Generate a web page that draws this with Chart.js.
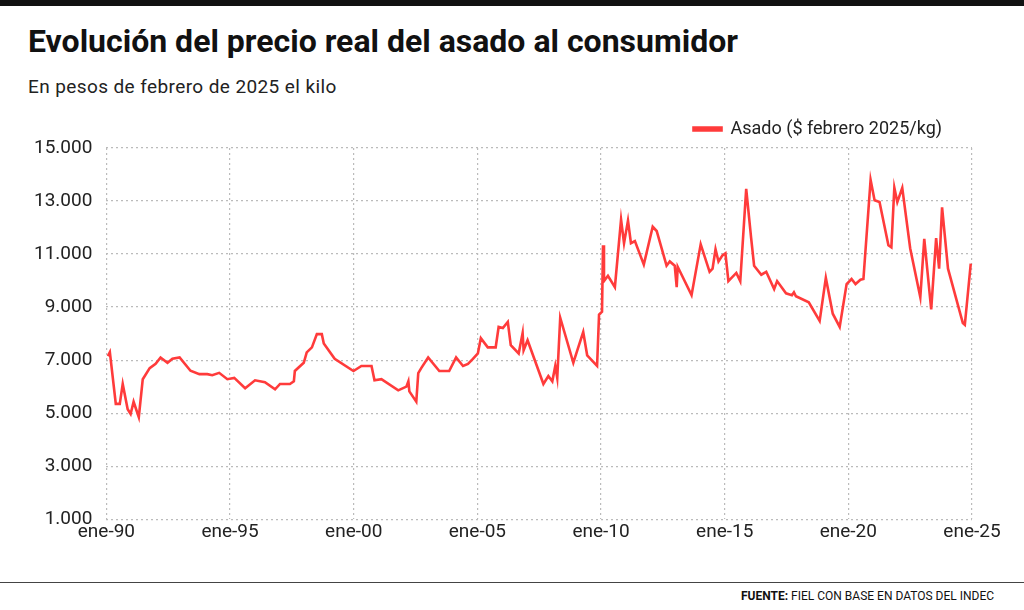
<!DOCTYPE html>
<html><head><meta charset="utf-8">
<script src="https://cdn.jsdelivr.net/npm/chart.js@4.4.1/dist/chart.umd.min.js"></script>
<style>
body{margin:0;width:1024px;height:610px;background:#fff;position:relative;overflow:hidden;font-family:'Roboto','Liberation Sans',sans-serif;}
#topbar{position:absolute;left:0;top:0;width:1024px;height:6px;background:#111;}
#title{position:absolute;left:28px;top:22px;font-size:32px;font-weight:bold;color:#111;letter-spacing:0px;}
#sub{position:absolute;left:28px;top:75px;font-size:19px;color:#222;letter-spacing:0.4px;}
#wrap{position:absolute;left:0;top:90px;width:1024px;height:456px;}
#line{position:absolute;left:0;top:582px;width:1024px;height:1px;background:#444;}
#foot{position:absolute;left:741px;top:589px;font-size:12px;color:#111;white-space:nowrap;}
</style></head><body>
<div id="topbar"></div>
<div id="title">Evolución del precio real del asado al consumidor</div>
<div id="sub">En pesos de febrero de 2025 el kilo</div>
<div id="wrap"><canvas id="c" width="1024" height="456"></canvas></div>
<div id="line"></div>
<div id="foot"><b>FUENTE:</b> FIEL CON BASE EN DATOS DEL INDEC</div>
<script>
const seriesName = 'Asado ($ febrero 2025/kg)';
const dates = [1990.06,1990.14,1990.38,1990.54,1990.66,1990.86,1990.98,1991.10,1991.31,1991.47,1991.75,1991.99,1992.19,1992.47,1992.67,1992.96,1993.40,1993.76,1994.08,1994.28,1994.56,1994.89,1995.17,1995.61,1996.01,1996.41,1996.82,1997.02,1997.42,1997.58,1997.62,1997.98,1998.10,1998.31,1998.51,1998.71,1998.79,1999.23,1999.99,2000.31,2000.72,2000.84,2001.12,2001.80,2002.13,2002.21,2002.25,2002.53,2002.61,2002.73,2003.01,2003.46,2003.86,2004.14,2004.42,2004.62,2004.82,2005.02,2005.14,2005.42,2005.74,2005.86,2006.03,2006.23,2006.35,2006.67,2006.83,2006.87,2007.03,2007.67,2007.87,2008.03,2008.15,2008.23,2008.35,2008.88,2009.04,2009.28,2009.44,2009.84,2009.92,2010.04,2010.08,2010.12,2010.28,2010.56,2010.81,2010.93,2011.09,2011.21,2011.37,2011.73,2012.09,2012.25,2012.65,2012.78,2012.98,2013.06,2013.10,2013.66,2014.03,2014.39,2014.51,2014.63,2014.75,2014.91,2015.03,2015.15,2015.47,2015.63,2015.87,2016.07,2016.19,2016.48,2016.68,2017.00,2017.12,2017.48,2017.72,2017.80,2017.88,2018.40,2018.84,2019.09,2019.37,2019.65,2019.93,2020.13,2020.29,2020.49,2020.61,2020.90,2021.06,2021.26,2021.62,2021.74,2021.86,2021.98,2022.18,2022.50,2022.91,2023.07,2023.35,2023.55,2023.67,2023.79,2024.03,2024.63,2024.71,2024.95];
const prices = [7150,7300,5350,5350,6100,5150,4970,5430,4850,6280,6700,6860,7100,6900,7050,7100,6600,6470,6470,6430,6520,6280,6330,5940,6240,6170,5900,6100,6100,6200,6590,6900,7290,7480,7980,7980,7630,7050,6590,6780,6780,6240,6280,5860,6000,6200,5820,5430,6510,6700,7100,6590,6590,7100,6780,6860,7050,7250,7830,7480,7480,8250,8210,8440,7560,7250,8020,7370,7750,6100,6400,6200,6780,6330,8600,6900,7370,8060,7180,6780,8720,8830,11330,9980,10180,9750,12300,11410,12260,11410,11490,10600,12030,11870,10560,10720,10560,9750,10520,9450,11370,10330,10450,11180,10720,10950,11030,9980,10290,9980,13460,11600,10560,10220,10330,9680,9980,9520,9450,9560,9410,9180,8480,10100,8750,8250,9870,10060,9870,10030,10060,13800,13030,12960,11330,11250,13500,12960,13500,11220,9370,11570,8910,11600,10450,12760,10450,8400,8330,10640];
const xTickYears = [1990,1995,2000,2005,2010,2015,2020,2025];
const xTickLabels = ['ene-90','ene-95','ene-00','ene-05','ene-10','ene-15','ene-20','ene-25'];
const yTicks = [1000,3000,5000,7000,9000,11000,13000,15000];

const tickFont = {family:"'Roboto','Liberation Sans',sans-serif", size:19};
new Chart(document.getElementById('c'), {
  type:'line',
  data:{datasets:[{label:seriesName,data:dates.map((d,i)=>({x:d,y:prices[i]})),borderColor:'#ff3b3b',backgroundColor:'#ff3b3b',borderWidth:2.6,pointRadius:0,tension:0}]},
  options:{
    responsive:false,animation:false,
    layout:{padding:{left:20,right:52,top:0,bottom:0}},
    plugins:{
      legend:{align:'end',labels:{boxWidth:28,boxHeight:3,color:'#222',font:{family:"'Roboto','Liberation Sans',sans-serif",size:18},padding:30}},
      tooltip:{enabled:false}
    },
    scales:{
      x:{type:'linear',min:1990,max:2025,
        afterBuildTicks:ax=>{ax.ticks=xTickYears.map(v=>({value:v}));},
        ticks:{callback:v=>xTickLabels[xTickYears.indexOf(v)],color:'#222',font:tickFont,maxRotation:0,autoSkip:false,padding:2},
        grid:{color:'#bbb',lineWidth:1.2,drawTicks:false},border:{display:false,dash:[2,3]}},
      y:{min:1000,max:15000,
        afterBuildTicks:ax=>{ax.ticks=yTicks.map(v=>({value:v}));},
        ticks:{callback:v=>v.toLocaleString('de-DE'),color:'#222',font:tickFont,padding:14},
        grid:{color:'#bbb',lineWidth:1.2,drawTicks:false},border:{display:false,dash:[2,3]}}
    }
  }
});
</script>
</body></html>
